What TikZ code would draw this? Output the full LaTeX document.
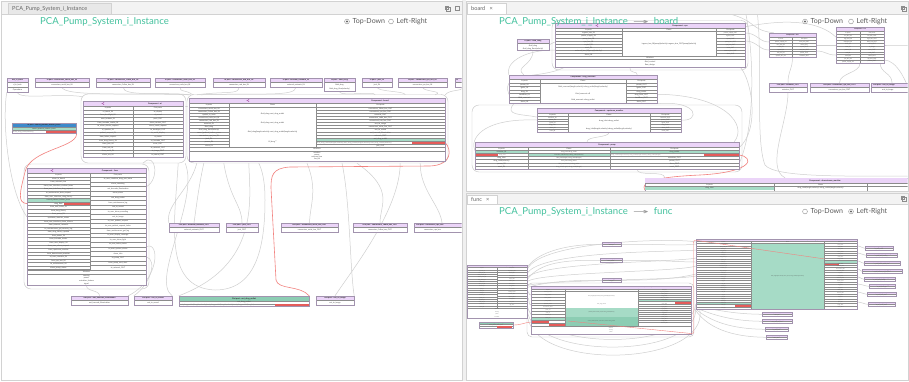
\documentclass[tikz,border=0pt]{standalone}
\usepackage{fontspec}
\setmainfont{Lato}
\newfontfamily\dejavu{DejaVu Sans}
\usetikzlibrary{fit,calc}
\pgfdeclarelayer{back}
\pgfdeclarelayer{bg}
\pgfsetlayers{back,bg,main}
\definecolor{lilac}{HTML}{EBD4F8}
\definecolor{boxc}{HTML}{A293AE}
\definecolor{grn}{HTML}{A6DBC6}
\definecolor{grnd}{HTML}{8CCDB3}
\definecolor{redc}{HTML}{E55C5A}
\definecolor{bluec}{HTML}{3D8ACB}
\definecolor{tealc}{HTML}{43C19D}
\definecolor{wirec}{HTML}{CFCFCF}
\definecolor{redw}{HTML}{F2827F}
\definecolor{tabbg}{HTML}{F3F3F3}
\definecolor{tabc}{HTML}{E8E8E8}
\definecolor{panelc}{HTML}{D2D2D2}
\tikzset{
  tx/.style={font=\fontsize{1.9}{2}\selectfont, text=black!72, inner sep=0pt},
  txs/.style={font=\fontsize{1.5}{1.6}\selectfont, text=black!72, inner sep=0pt},
  txf/.style={font=\fontsize{1.1}{1.2}\selectfont, text=black!72, inner sep=0pt},
  tb/.style={font=\fontsize{2}{2}\selectfont\bfseries, text=black!85, inner sep=0pt},
  tbs/.style={font=\fontsize{1.6}{1.7}\selectfont\bfseries, text=black!85, inner sep=0pt},
  tbf/.style={font=\fontsize{1.2}{1.3}\selectfont\bfseries, text=black!85, inner sep=0pt},
  boxo/.style={draw=boxc, line width=0.4pt, inner sep=0pt},
  rowl/.style={draw=black!45, line width=0.2pt},
  hdr/.style={fill=lilac},
  ghdr/.style={fill=grnd},
  wirel/.style={draw=wirec, line width=0.5pt},
  rwire/.style={draw=redw, line width=0.6pt},
  clus/.style={draw=black!22, line width=0.45pt, rounded corners=7pt},
  ttl/.style={font=\fontsize{9.6}{10}\selectfont, text=tealc, inner sep=0pt, anchor=west},
  radiot/.style={font=\fontsize{7}{7}\selectfont, text=black!65, inner sep=0pt, anchor=west},
  tabt/.style={font=\fontsize{5.6}{6}\selectfont, text=black!60, inner sep=0pt, anchor=west},
  radc/.style={draw=black!45, line width=0.4pt, fill=white},
}
\newcommand\rarr{{\dejavu →}}
\newcommand\hlines[5]{\foreach \kk in {1,...,#5}{\draw[rowl] (#1,{#3+\kk*#4}) -- (#2,{#3+\kk*#4});}}
\newcommand\coltext[5][tx]{\foreach \lbl [count=\kk] in {#5}{\node[#1] at (#2,{#3+(\kk-0.5)*#4}) {\lbl};}}
\newcommand\pbox[7][hdr]{%
  \fill[white] (#3,#4) rectangle (#5,{#4+8.8});
  \fill[#1] (#3,#4) rectangle (#5,{#4+4.5});
  \draw[rowl] (#3,{#4+4.5}) -- (#5,{#4+4.5});
  \node[tb] at ({(#3+#5)/2},{#4+2.25}) {#6};
  \node[tx] at ({(#3+#5)/2},{#4+6.65}) {#7};
  \node[boxo, fit={(#3,#4)(#5,{#4+8.8})}] (#2) {};}
\newcommand\spbox[6]{%
  \fill[white] (#2,#3) rectangle (#4,{#3+4.6});
  \fill[hdr] (#2,#3) rectangle (#4,{#3+2.3});
  \draw[rowl] (#2,{#3+2.3}) -- (#4,{#3+2.3});
  \node[tbf] at ({(#2+#4)/2},{#3+1.15}) {#5};
  \node[txf] at ({(#2+#4)/2},{#3+3.45}) {#6};
  \node[boxo, line width=0.3pt, fit={(#2,#3)(#4,{#3+4.6})}] (#1) {};}
\newcommand\shareicon[2]{%
  \fill[violet!65] ({#1-0.9},#2) circle (0.5pt) ({#1+0.8},{#2-0.9}) circle (0.5pt) ({#1+0.8},{#2+0.9}) circle (0.5pt);
  \draw[violet!65, line width=0.25pt] ({#1+0.8},{#2-0.9}) -- ({#1-0.9},#2) -- ({#1+0.8},{#2+0.9});}
\begin{document}
\catcode`\_=12
\begin{tikzpicture}[x=1pt,y=-1pt]
\begin{pgfonlayer}{back}
\fill[white] (0,0) rectangle (909,381);
\end{pgfonlayer}
\useasboundingbox (0,0) rectangle (909,381);

%================ LEFT PANEL =================
\begin{scope}
\clip (1.5,14.5) rectangle (461.5,379.5);
% --- in ports row
\fill[white] (7,78) rectangle (28,92);
\fill[hdr] (7,78) rectangle (28,82.5);
\draw[rowl] (7,82.5) -- (28,82.5) (7,87.2) -- (28,87.2);
\node[tb] at (17.5,80.25) {ate_in_bank};
\node[tx] at (17.5,84.85) {d_in_bank};
\node[tx] at (17.5,89.6) {Operations};
\node[boxo, fit={(7,78)(28,92)}] (ipa) {};
\pbox{ip1}{35}{78}{89}{In port : connectors_serial_bus_IN}{connectors_serial_bus_IN}
\pbox{ip2}{96}{78}{150}{In port : connectors_1dbm_bus_IN}{connectors_1dbm_bus_IN}
\pbox{ip3}{155}{78}{205}{In port : connectors_code_bus_IN}{connectors_code_bus_IN}
\pbox{ip4}{213}{78}{265}{In port : connectors_usb_bus_IN}{connectors_usb_bus_IN}
\pbox{ip5}{270}{78}{322}{In port : external_network_IN}{external_network_IN}
\fill[white] (324,78) rectangle (355,91.5);
\fill[hdr] (324,78) rectangle (355,82.5);
\draw[rowl] (324,82.5) -- (355,82.5);
\node[tb] at (339.5,80.25) {In port : fluid_drug};
\node[tx] at (339.5,85) {fluid_drug};
\node[tx] at (339.5,88.8) {fluid_drug_flow(velocity)};
\node[boxo, fit={(324,78)(355,91.5)}] (ip6) {};
\pbox{ip7}{362}{78}{392}{In port : jack_IN}{jack_IN}
\pbox{ip8}{398}{78}{447}{In port : connectors_rpa_bus_IN}{connectors_rpa_bus_IN}
\fill[white] (455,78) rectangle (470,86.8);
\fill[hdr] (455,78) rectangle (470,82.5);
\draw[rowl] (455,82.5) -- (470,82.5);
\node[tb, anchor=west] at (456,80.25) {In};
\node[boxo, fit={(455,78)(470,86.8)}] (ip9) {};

% --- blue in port
\fill[white] (12,123) rectangle (76,133);
\fill[bluec] (12,123) rectangle (76,127.5);
\node[tb] at (44,125.25) {In port : sound_patient_button_press};
\fill[grn] (12,127.5) rectangle (76,130.3);
\node[tx] at (44,128.9) {sound_patient_button_press};
\fill[redc] (46,130.3) rectangle (76,133);
\node[tx, text=black!45, anchor=west] at (13,131.65) {fluid_drug_flow(velocity)};
\draw[rowl] (12,127.5) -- (76,127.5) (12,130.3) -- (76,130.3);
\node[boxo, fit={(12,123)(76,133)}] (blue) {};

% --- Component ui
\node[boxo, fill=white, fit={(83,101)(183,157)}] (ui) {};
\fill[hdr] (83,101) rectangle (183,106);
\shareicon{103}{103.5}
\node[tb] at (155,103.5) {Component : ui};
\draw[rowl] (83,106) -- (183,106) (83,110) -- (183,110) (133,106) -- (133,157);
\node[tx] at (108,108) {In ports};
\node[tx] at (158,108) {Out ports};
\hlines{83}{183}{110}{3.6}{12}
\coltext{108}{110}{3.6}{ui_touch_IN,from_backlight_IN,uses_buttons_IN,from_barcode_reader_IN,to_alarm_silence_request,ui_speaker_IN,patient_request_IN,from_bolus_request,from_drug_library_IN,from_jack_IN,from_usb_IN,from_serial_IN,alarm_ack_IN}
\coltext{158}{110}{3.6}{to_display,ui_sound,push_OUT,alarm_control_OUT,alarm_mode_request,to_backlight_OUT,to_serial_display,ui_status,to_barcode_OUT,error_OUT,to_network_OUT,to_image_OUT,to_sound_OUT}
\draw[boxc, line width=0.4pt] (83,101) rectangle (183,157);

% --- Component board
\node[boxo, fill=white, fit={(189,98)(445,161)}] (board) {};
\fill[hdr] (189,98) rectangle (445,103);
\shareicon{248}{100.5}
\node[tb] at (380,100.5) {Component : board};
\fill[grn] (316,137.8) rectangle (445,140.9);
\fill[redc] (412,140.9) rectangle (445,144);
\draw[rowl] (189,103) -- (445,103) (189,107) -- (445,107) (229,103) -- (229,147) (316,103) -- (316,147) (189,147) -- (445,147) (189,150.8) -- (445,150.8);
\node[tx] at (209,105) {In ports};
\node[tx] at (272.5,105) {Flows};
\node[tx] at (380.5,105) {Out ports};
\hlines{189}{229}{107}{3.08}{12}
\hlines{316}{445}{107}{3.08}{12}
\coltext{209}{107}{3.08}{connectors_serial_bus_IN,connectors_1dbm_bus_IN,update_in_bank,connectors_code_bus_IN,connectors_usb_bus_IN,external_IN,fluid_drug,fluid_drug_flow(velocity),sound_patient_button_press,connectors_rpa_bus_IN,jack_IN,power_IN,alarm_IN}
\coltext{380.5}{107}{3.08}{connectors_1dbm_bus_OUT,connectors_rpa_bus_OUT,external_OUT,connectors_code_bus_OUT,connectors_usb_bus_OUT,out_to_image,connectors_serial_bus_OUT,out_to_sound,out_barcode_illumination,network_OUT,out_drug_outlet}
\node[tx, text=black!45, anchor=west] at (317,142.45) {out_drug_outlet(length,velocity) out_drug_outlet(length,velocity) out_drug_outlet(velocity)};
\node[tx] at (380.5,145.5) {jack_OUT};
\node[tx] at (272.5,114) {fluid_drug\rarr out_drug_outlet};
\node[tx] at (272.5,122.5) {fluid_drug\rarr out_drug_outlet};
\node[tx] at (272.5,132) {fluid_drug(length,velocity)\rarr out_drug_outlet(length,velocity)};
\node[tx] at (272.5,142) {UI_drug**};
\node[tx] at (317,148.9) {Wireless};
\node[tx] at (317,152.8) {wireless};
\node[tx] at (317,155) {power};
\node[tx] at (317,157.2) {external_bus};
\node[tx] at (317,159.4) {fan_bd};
\draw[boxc, line width=0.4pt] (189,98) rectangle (445,161);

% --- Component func
\node[boxo, fill=white, fit={(27,168)(146,285.5)}] (func) {};
\fill[hdr] (27,168) rectangle (146,173);
\shareicon{52}{170.5}
\node[tb] at (110,170.5) {Component : func};
\fill[grn] (27,198.4) rectangle (90,201.9);
\fill[redc] (64,201.9) rectangle (90,205.5);
\draw[rowl] (27,173) -- (146,173) (27,177) -- (146,177) (90,173) -- (90,270.2) (27,270.2) -- (146,270.2) (27,274) -- (146,274);
\node[tx] at (58.5,175) {In ports};
\node[tx] at (118,175) {Out ports};
\hlines{27}{90}{177}{3.56}{26}
\hlines{90}{146}{177}{4.65}{19}
\coltext{58.5}{177}{3.56}{alarm_in_board,from_network_bus,from_user_interface_confirm_bolus,from_user_interface_drug_request,to_maintenance_data_request,from_user_interface_drug_library,sound_patient_button_press,drug_flow,from_user_bolus_IN,from_drug_library,from_pump_IN,upstream_monitor_status,from_user_interface_alarm_silence,from_external_network,to_maintenance_get_security_log,from_drug_library_update,from_power_IN,from_barcode_reader,from_user_display_IN,from_user_alarm_request,from_upstream_monitor,from_downstream_monitor,to_user_interface_IN,from_rpa_bus_IN,to_maintenance_IN,alarm_pump_status}
\coltext{118}{177}{4.65}{to_user_interface_drug_pair_bolus,alarm_sounding,out_barcode_illumination,alarm_alarm,out_drug_outlet,from_maintenance_log,out_to_sound,to_user_alarm_sounding,out_to_image,to_user_patient_request,to_user_patient_request_bolus,from_maintenance_get_log,to_user_display_message,to_user_alarm_light,to_user_bolus_status,to_user_system_status,alarm_info,to_pump_OUT,from_pump_sent_alert,to_network_OUT}
\node[tx] at (86.5,272.1) {Wireless};
\node[tx] at (86.5,276) {sensing};
\node[tx] at (86.5,278.5) {power};
\node[tx] at (86.5,281) {actuation_feature};
\node[tx] at (86.5,283.5) {signal};
\draw[boxc, line width=0.4pt] (27,168) rectangle (146,285.5);

% --- out ports
\pbox{op1}{169}{223}{219}{Out port : external_network_OUT}{external_network_OUT}
\pbox{op2}{226}{223}{258}{Out port : jack_OUT}{jack_OUT}
\pbox{op3}{281}{223}{338}{Out port : connectors_serial_bus_OUT}{connectors_serial_bus_OUT}
\pbox{op4}{353}{223}{407}{Out port : connectors_1dbm_bus_OUT}{connectors_1dbm_bus_OUT}
\fill[white] (414,223) rectangle (470,231.8);
\fill[hdr] (414,223) rectangle (470,227.5);
\draw[rowl] (414,227.5) -- (470,227.5);
\node[tb, anchor=west] at (416,225.25) {Out port : connectors_rpa_bus};
\node[tx, anchor=west] at (424,229.65) {connectors_rpa_bus};
\node[boxo, fit={(414,223)(470,231.8)}] (op5) {};
\pbox{op6}{71}{296}{128}{Out port : out_barcode_illumination}{out_barcode_illumination}
\pbox{op7}{134}{296}{172}{Out port : out_to_sound}{out_to_sound}
\fill[white] (179,296) rectangle (309,306.5);
\fill[grnd] (179,296) rectangle (309,301);
\node[tb] at (244,298.5) {Out port : out_drug_outlet};
\draw[rowl] (179,301) -- (309,301) (179,303.7) -- (309,303.7);
\node[tx] at (244,302.35) {out_drug_outlet};
\fill[redc] (275,303.7) rectangle (309,306.5);
\node[tx, text=black!45, anchor=west] at (180,305.1) {out_drug_outlet(length,velocity) out_drug_outlet(length,velocity) out_drug_outlet(length)};
\node[boxo, fit={(179,296)(309,306.5)}] (od) {};
\pbox{op9}{316}{296}{354}{Out port : out_to_image}{out_to_image}
\end{scope}

% --- left panel wires
\begin{pgfonlayer}{bg}
\begin{scope}
\clip (1.5,14.5) rectangle (461.5,379.5);
\draw[clus] (81,94) rectangle (186,163);
\draw[clus] (187,94.5) rectangle (448,163);
\draw[clus] (24,164) rectangle (149,289);
\draw[wirel] (ipa.south) .. controls +(0,8) and +(-20,-4) .. ($(ui.north west)+(0,-4)$);
\draw[wirel] (ipa.south west) .. controls (2,120) and (8,190) .. ($(func.west)+(0,-10)$);
\draw[wirel] (ip1.south) .. controls +(0,10) and +(-50,-2) .. ($(board.north west)+(0,-3)$);
\draw[wirel] (ip2.south) .. controls +(0,10) and +(-30,-3) .. ($(board.north west)+(2,-3)$);
\draw[wirel] (ip3.south) .. controls +(0,6) and +(-8,-6) .. ($(board.north west)+(4,-3)$);
\draw[wirel] (ip4.south) .. controls +(0,8) and +(30,-4) .. ($(board.north west)+(8,-3)$);
\draw[wirel] (ip5.south) .. controls +(0,10) and +(60,-2) .. ($(board.north west)+(12,-3)$);
\draw[wirel] (ip6.south) .. controls +(0,5) and +(0,-4) .. ($(board.north east)+(-70,-3)$);
\draw[wirel] (ip7.south) .. controls +(0,5) and +(0,-4) .. ($(board.north east)+(-40,-3)$);
\draw[wirel] (ip8.south) .. controls +(0,5) and +(10,-4) .. ($(board.north east)+(-10,-3)$);
\draw[wirel] (ip9.south) .. controls +(0,5) and +(5,-6) .. ($(board.north east)+(0,-3)$);
\draw[wirel] ($(ui.north east)+(3,5)$) .. controls +(5,0) and +(-5,0) .. ($(board.north west)+(-2,8)$);
\draw[wirel] ($(ui.south east)+(2,6)$) .. controls (200,200) and (150,280) .. (op7.north east);
\draw[wirel] ($(ui.south east)+(-5,6)$) .. controls (175,220) and (162,288) .. (215,290) .. controls (255,290) and (265,250) .. (265,200) .. controls (265,180) and (262,170) .. ($(board.south west)+(70,2)$);
\draw[wirel] ($(board.south west)+(8,2)$) .. controls (190,190) and (165,205) .. (op1.north west);
\draw[wirel] ($(board.south west)+(15,2)$) .. controls (198,190) and (196,210) .. (op1.north);
\draw[wirel] ($(board.south west)+(35,2)$) .. controls (230,200) and (242,205) .. (op2.north);
\draw[wirel] ($(board.south west)+(60,2)$) .. controls (250,200) and (260,265) .. (od.north west);
\draw[wirel] ($(board.south)+(-10,2)$) .. controls (318,190) and (310,205) .. (op3.north);
\draw[wirel] ($(board.south)+(25,2)$) .. controls (350,200) and (350,270) .. (op9.north east);
\draw[wirel] ($(board.south)+(40,2)$) .. controls (395,190) and (380,205) .. (op4.north);
\draw[wirel] ($(board.south east)+(-25,2)$) .. controls (420,190) and (440,205) .. (op5.north);
\draw[wirel] ($(board.south east)+(-45,2)$) .. controls (400,210) and (352,270) .. (op9.north);
\draw[wirel] (func.south) .. controls +(0,6) and +(0,-6) .. (op6.north);
\draw[wirel] ($(func.east)+(0,30)$) .. controls (158,260) and (150,285) .. (op7.north west);
\draw[wirel] ($(func.east)+(0,20)$) .. controls (160,240) and (160,280) .. (op6.north east);
\draw[wirel] ($(func.east)+(0,-40)$) .. controls (160,180) and (156,150) .. ($(ui.south)+(10,6)$);
\draw[rwire] ($(blue.south east)+(0,-2)$) .. controls (82,148) and (30,148) .. (25,172) .. controls (20,192) and (17,203) .. (27,203.6);
\draw[rwire] ($(board.east)+(0,13)$) .. controls (452,150) and (452,165) .. (430,166) -- (290,167) .. controls (272,168) and (271,176) .. (271,188) -- (276,280) .. controls (278,290) and (300,285) .. (od.north east);
\end{scope}
\end{pgfonlayer}

%================ RIGHT TOP PANEL (board) =================
\begin{scope}
\clip (466.5,14.5) rectangle (907.5,190.5);
% fluid in port
\fill[white] (517,39) rectangle (549,50.5);
\fill[hdr] (517,39) rectangle (549,43.5);
\draw[rowl] (517,43.5) -- (549,43.5);
\node[tb] at (533,41.25) {In port : fluid_drug};
\node[tx] at (533,45.6) {fluid_drug};
\node[tx] at (533,48.8) {fluid_drug_flow(velocity)};
\node[boxo, fit={(517,39)(549,50.5)}] (fl) {};
% cpu
\node[boxo, fill=white, fit={(555,23)(745,67)}] (cpu) {};
\fill[hdr] (555,23) rectangle (745,28);
\shareicon{597}{25.5}
\node[tb] at (680,25.5) {Component : cpu};
\draw[rowl] (555,28) -- (745,28) (555,31.5) -- (745,31.5) (622,28) -- (622,56) (716,28) -- (716,56) (555,56) -- (745,56) (555,59.5) -- (745,59.5);
\node[tx] at (588.5,29.75) {In ports};
\node[tx] at (669,29.75) {Flows};
\node[tx] at (730.5,29.75) {Out ports};
\hlines{555}{622}{31.5}{3.06}{7}
\hlines{716}{745}{31.5}{3.06}{7}
\coltext{588.5}{31.5}{3.06}{ingress_bus_IN,power_supply_IN,pump_bus_IN,cpu_bus_IN,crystal_IN,reset_IN,external_bus_IN(pump)(velocity),alarm_IN}
\coltext[txs]{730.5}{31.5}{3.06}{power_supply_OUT,egress_OUT,crystal_OUT,pump_bus_OUT,cpu_bus_OUT,reset_OUT,external_bus_OUT,alarm_OUT}
\node[tx] at (669,44) {ingress_bus_IN(pump)(velocity)\rarr egress_bus_OUT(pump)(velocity)};
\node[tx] at (650,57.75) {Wireless};
\node[tx] at (650,61.5) {fluid_control};
\node[tx] at (650,64.8) {flow_design};
\draw[boxc, line width=0.4pt] (555,23) rectangle (745,67);
% mcu
\node[boxo, fill=white, fit={(769,33)(816,57)}] (mcu) {};
\fill[hdr] (769,33) rectangle (816,37.5);
\node[tbs] at (792.5,35.25) {Component : mcu};
\draw[rowl] (769,37.5) -- (816,37.5) (769,40.5) -- (816,40.5) (792.5,37.5) -- (792.5,57);
\node[txs] at (780.75,39) {In ports};
\node[txs] at (804.25,39) {Out ports};
\hlines{769}{816}{40.5}{2.75}{5}
\coltext[txs]{780.75}{40.5}{2.75}{power_supply_IN,mcu_bus_IN,reset_IN,crystal_IN,ext_bus_IN,system_bus_IN}
\coltext[txs]{804.25}{40.5}{2.75}{mcu_bus_OUT,reset_OUT,crystal_OUT,ext_bus_OUT,power_OUT,actuator_OUT}
\draw[boxc, line width=0.4pt] (769,33) rectangle (816,57);
% tcu
\node[boxo, fill=white, fit={(836,27)(884,63)}] (tcu) {};
\fill[hdr] (836,27) rectangle (884,31.5);
\node[tbs] at (860,29.25) {Component : tcu};
\draw[rowl] (836,31.5) -- (884,31.5) (836,34.5) -- (884,34.5) (860,31.5) -- (860,63);
\node[txs] at (848,33) {In ports};
\node[txs] at (872,33) {Out ports};
\hlines{836}{884}{34.5}{2.85}{9}
\coltext[txs]{848}{34.5}{2.85}{tcu_bus_IN,sign_bus_IN,data_bus_IN,clock_IN,reset_IN,power_IN,usb_IN,serial_IN,rpa_bus_IN,power_supply_IN}
\coltext[txs]{872}{34.5}{2.85}{tcu_bus_OUT,sign_bus_OUT,data_bus_OUT,clock_OUT,to_image,reset_OUT,usb_OUT,serial_OUT,rpa_bus_OUT,power_OUT}
\draw[boxc, line width=0.4pt] (836,27) rectangle (884,63);
% drug reservoir
\node[boxo, fill=white, fit={(509,75)(657,103.5)}] (dr) {};
\fill[hdr] (509,75) rectangle (657,79.5);
\node[tb] at (583,77.25) {Component : drug_reservoir};
\draw[rowl] (509,79.5) -- (657,79.5) (509,83) -- (657,83) (540,79.5) -- (540,103.5) (626,79.5) -- (626,103.5);
\node[tx] at (524.5,81.25) {In ports};
\node[tx] at (583,81.25) {Flows};
\node[tx] at (641.5,81.25) {Out ports};
\hlines{509}{540}{83}{3.4}{5}
\hlines{626}{657}{83}{3.4}{5}
\coltext{524.5}{83}{3.4}{power_IN,ignite_IN,drug_IN,backflow_IN,fluid_reservoir,alarm_IN}
\coltext{641.5}{83}{3.4}{power_OUT,ignite_OUT,drug_outlet,drug_level_OUT,backflow_OUT,alarm_OUT}
\node[tx] at (583,87) {fluid_reservoir(length,velocity)\rarr drug_outlet(length,velocity)};
\node[tx] at (583,93.5) {fluid_reservoir\rarr fl};
\node[tx] at (583,99.5) {fluid_reservoir\rarr drug_outlet};
\draw[boxc, line width=0.4pt] (509,75) rectangle (657,103.5);
% out ports
\pbox{bo1}{769}{83}{807}{Out port : actuator_OUT}{actuator_OUT}
\pbox{bo2}{810}{83}{869}{Out port : connectors_rpa_bus_OUT}{connectors_rpa_bus_OUT}
\fill[white] (871,83) rectangle (913,91.8);
\fill[hdr] (871,83) rectangle (913,87.5);
\draw[rowl] (871,87.5) -- (913,87.5);
\node[tb, anchor=west] at (873,85.25) {Out port : out_to_image};
\node[tx, anchor=west] at (882,89.65) {out_to_image};
\node[boxo, fit={(871,83)(913,91.8)}] (bo3) {};
% upstream monitor
\node[boxo, fill=white, fit={(537,108)(681,132)}] (um) {};
\fill[hdr] (537,108) rectangle (681,113);
\node[tb] at (609,110.5) {Component : upstream_monitor};
\draw[rowl] (537,113) -- (681,113) (537,116.3) -- (681,116.3) (568,113) -- (568,132) (650,113) -- (650,132);
\node[tx] at (552.5,114.65) {In ports};
\node[tx] at (609,114.65) {Flows};
\node[tx] at (665.5,114.65) {Out ports};
\hlines{537}{568}{116.3}{2.62}{5}
\hlines{650}{681}{116.3}{2.62}{5}
\coltext[txs]{552.5}{116.3}{2.62}{backflow_IN,power_IN,ignite_IN,drug_inlet,alarm_IN,reset_IN}
\coltext[txs]{665.5}{116.3}{2.62}{backflow_OUT,power_OUT,ignite_OUT,drug_outlet,alarm_OUT,reset_OUT}
\node[tx] at (609,121) {drug_inlet\rarr drug_outlet};
\node[tx] at (609,128.5) {drug_inlet(length,velocity)\rarr drug_outlet(length,velocity)};
\draw[boxc, line width=0.4pt] (537,108) rectangle (681,132);
% pump
\node[boxo, fill=white, fit={(475,142)(739,169)}] (pump) {};
\fill[hdr] (475,142) rectangle (739,147);
\node[tb] at (607,144.5) {Component : pump};
\fill[grn] (475,150) rectangle (528,153.17);
\fill[redc] (475,153.17) rectangle (498,156.34);
\fill[grn] (528,153.17) rectangle (610,156.34);
\fill[grn] (610,150) rectangle (739,153.17);
\fill[redc] (704,153.17) rectangle (739,156.34);
\draw[rowl] (475,147) -- (739,147) (475,150) -- (739,150) (528,147) -- (528,169) (610,147) -- (610,169);
\node[tx] at (501.5,148.5) {In ports};
\node[tx] at (569,148.5) {Flows};
\node[tx] at (674.5,148.5) {Out ports};
\hlines{475}{739}{150}{3.17}{5}
\coltext{501.5}{150}{3.17}{actuator_IN,{},drug_inlet,drug_inlet(velocity),power_IN,reset_IN}
\node[txs, text=black!45, anchor=west] at (499,154.75) {drug_flow};
\coltext[txs]{569}{150}{3.17}{drug_inlet\rarr drug_outlet,actuation_IN(velocity)\rarr drug_outlet(velocity),fluid_rate(length)\rarr drug_outlet(length),fluid_rate\rarr drug_outlet,fluid_rate(velocity)\rarr drug_outlet,drug_inlet(length)\rarr drug_outlet(length)}
\coltext{674.5}{150}{3.17}{drug_outlet,{},actuation_OUT,power_OUT,alarm_OUT,reset_OUT}
\node[txs, text=black!45, anchor=west] at (611,154.75) {drug_outlet(length velocity) drug_outlet(length velocity) drug_outlet(length)};
\draw[boxc, line width=0.4pt] (475,142) rectangle (739,169);
% downstream monitor
\node[boxo, fill=white, fit={(645,178)(1005,200)}] (ds) {};
\fill[hdr] (645,178) rectangle (1005,183);
\node[tb] at (825,180.5) {Component : downstream_monitor};
\fill[grn] (645,186.5) rectangle (774,190);
\draw[rowl] (645,183) -- (1005,183) (645,186.5) -- (1005,186.5) (774,183) -- (774,200) (867,183) -- (867,200);
\node[tx] at (709.5,184.75) {In ports};
\node[tx] at (820.5,184.75) {Flows};
\node[tx] at (709.5,188.3) {drug_inlet};
\node[tx] at (820.5,188.3) {drug_inlet(length,velocity)\rarr drug_outlet(length,velocity)};
\end{scope}

\begin{pgfonlayer}{bg}
\begin{scope}
\clip (466.5,14.5) rectangle (907.5,190.5);
\draw[clus] (552,20.5) rectangle (748,70);
\draw[clus] (472,105) rectangle (742,172);
\coordinate (rt1) at (757,10);
\coordinate (rt2) at (745,10);
\coordinate (rt3) at (700,10);
\coordinate (rt4) at (912,176);
\coordinate (rt5) at (912,45);
\coordinate (rt6) at (912,100);
\draw[wirel] (fl.south) .. controls +(0,15) and +(-10,-8) .. ($(dr.north west)+(15,0)$);
\draw[wirel] (fl.east) .. controls +(3,0) and +(-3,0) .. ($(cpu.west)+(0,-3)$);
\draw[wirel] ($(cpu.west)+(0,5)$) .. controls (520,50) and (505,65) .. (dr.north west);
\draw[wirel] ($(cpu.east)+(0,-12)$) .. controls +(12,0) and +(-10,0) .. ($(mcu.west)+(0,-3)$);
\draw[wirel] ($(cpu.east)+(0,-4)$) .. controls +(12,0) and +(-10,0) .. ($(mcu.west)+(0,5)$);
\draw[wirel] ($(cpu.north east)+(0,4)$) .. controls (790,18) and (820,22) .. ($(tcu.west)+(0,-8)$);
\draw[wirel] (rt3) .. controls (760,14) and (745,30) .. ($(mcu.north west)+(5,0)$);
\draw[wirel] (mcu.east) .. controls +(10,0) and +(-10,0) .. (tcu.west);
\draw[wirel] ($(mcu.east)+(0,6)$) .. controls +(10,0) and +(-10,0) .. ($(tcu.west)+(0,10)$);
\draw[wirel] (mcu.south) .. controls +(0,12) and +(0,-12) .. (bo1.north);
\draw[wirel] (tcu.south) .. controls +(0,10) and +(0,-10) .. (bo2.north);
\draw[wirel] ($(tcu.south east)+(-4,0)$) .. controls +(0,10) and +(0,-10) .. (bo3.north);
\draw[wirel] (tcu.east) .. controls +(10,0) and +(-10,0) .. (rt5);
\draw[wirel] ($(tcu.east)+(0,15)$) .. controls +(12,0) and +(-5,-20) .. (rt6);
\draw[wirel] (rt1) .. controls (763,60) and (755,140) .. (765,165) .. controls (775,178) and (850,176) .. (rt4);
\draw[wirel] (rt2) .. controls (752,40) and (758,120) .. ($(pump.east)+(0,8)$);
\draw[wirel] ($(cpu.south)+(-20,0)$) .. controls +(0,8) and +(0,-5) .. ($(dr.north east)+(-20,0)$);
\draw[wirel] ($(cpu.south west)+(10,0)$) .. controls (540,80) and (500,70) .. ($(dr.west)+(0,5)$);
\draw[wirel] ($(dr.south west)+(5,0)$) .. controls +(-10,12) and +(-15,-3) .. ($(um.west)+(0,-3)$);
\draw[wirel] (dr.south east) .. controls (700,100) and (700,122) .. (um.east);
\draw[wirel] ($(dr.east)+(0,5)$) .. controls (725,95) and (748,125) .. ($(pump.north east)+(-5,0)$);
\draw[wirel] (um.south) .. controls +(0,6) and +(0,-6) .. ($(pump.north)+(-20,0)$);
\draw[wirel] (um.west) .. controls (480,118) and (470,140) .. ($(pump.west)+(0,-5)$);
\draw[wirel] ($(pump.east)+(0,-8)$) .. controls (760,130) and (752,80) .. ($(cpu.south east)+(-5,0)$);
\draw[wirel] ($(pump.south)+(30,0)$) .. controls +(0,8) and +(0,-8) .. ($(ds.north west)+(20,0)$);
\draw[wirel] ($(bo1.south)$) .. controls +(0,30) and +(-20,-10) .. ($(ds.north)+(-40,0)$);
\draw[rwire] ($(pump.east)+(0,-0.5)$) .. controls (754,157) and (755,172) .. (700,175) .. controls (655,177) and (640,182) .. ($(ds.west)+(0,1)$);
\end{scope}
\end{pgfonlayer}

%================ RIGHT BOTTOM PANEL (func) =================
\begin{scope}
\clip (466.5,204.5) rectangle (907.5,379.5);
% top small boxes
\spbox{sb1}{602}{242}{621}{In port : alarm_IN}{alarm_IN}
\spbox{sb2}{600}{258}{622}{In port : bolus_request}{bolus_request}
\spbox{sb3}{602}{278}{621}{In port : drug_IN}{drug_IN}
% left component
\node[boxo, fill=white, fit={(467,265)(527,318)}] (lc) {};
\fill[hdr] (467,265) rectangle (527,267.4);
\node[tbf] at (510,266.2) {Component : ui_func};
\draw[rowl] (467,267.4) -- (527,267.4) (467,269.6) -- (527,269.6) (497,267.4) -- (497,308) (467,308) -- (527,308);
\node[txf] at (482,268.5) {In ports};
\node[txf] at (512,268.5) {Out ports};
\hlines{467}{497}{269.6}{2.25}{17}
\hlines{497}{527}{269.6}{2.6}{14}
\coltext[txf]{482}{269.6}{2.25}{ui_touch_IN,from_user_IN,bolus_request_IN,confirm_bolus_IN,drug_library_IN,silence_IN,alarm_ack_IN,barcode_IN,jack_IN,serial_IN,usb_IN,network_IN,power_IN,rpa_bus_IN,code_bus_IN,patient_IN,status_IN}
\coltext[txf]{512}{269.6}{2.6}{to_display_OUT,sound_OUT,alarm_OUT,image_OUT,status_OUT,bolus_OUT,drug_OUT,error_OUT,backlight_OUT,barcode_OUT,network_OUT,serial_OUT,usb_OUT,log_OUT}
\node[txf] at (497,309.5) {Wireless};
\node[txf] at (497,312) {sensing};
\node[txf] at (497,314.3) {power};
\node[txf] at (497,316.6) {actuation};
\draw[boxc, line width=0.3pt] (467,265) rectangle (527,318);
% green in port
\fill[white] (479,322) rectangle (513,328);
\fill[grnd] (479,322) rectangle (513,324.2);
\node[tbf] at (496,323.1) {In port : sound_patient_button_press};
\draw[rowl] (479,324.2) -- (513,324.2) (479,326.2) -- (513,326.2);
\node[txf] at (496,325.2) {sound_patient_button_press};
\fill[redc] (497,326.2) rectangle (512,328);
\node[boxo, line width=0.3pt, fit={(479,322)(513,328)}] (gp) {};
% middle component
\node[boxo, fill=white, fit={(531,286)(691,334)}] (mc) {};
\fill[hdr] (531,286) rectangle (691,288.6);
\node[tbf] at (649,287.3) {Component : func_control};
\fill[grn] (565,308) rectangle (638,317);
\fill[grnd] (565,317) rectangle (638,326);
\fill[grn] (531,317.1) rectangle (565,320);
\fill[redc] (531,320) rectangle (549,322.9);
\fill[redc] (549,322.9) rectangle (565,325.8);
\fill[grn] (638,299.4) rectangle (691,301.5);
\fill[redc] (675,301.5) rectangle (691,303.6);
\draw[rowl] (531,288.6) -- (691,288.6) (531,291) -- (691,291) (565,288.6) -- (565,326) (638,288.6) -- (638,326) (531,326) -- (691,326);
\node[txf] at (548,289.8) {In ports};
\node[txf] at (601.5,289.8) {Flows};
\node[txf] at (664.5,289.8) {Out ports};
\hlines{531}{565}{291}{2.9}{11}
\hlines{638}{691}{291}{2.1}{15}
\coltext[txf]{548}{291}{2.9}{alarm_in_board,drug_request,bolus_request,pump_status,upstream_status,downstream_status,power_IN,reset_IN,network_IN,library_IN}
\coltext[txf]{664.5}{291}{2.1}{to_pump_control,alarm_status,drug_outlet,pump_rate_OUT,bolus_status,{},error_OUT,to_ui_alarm,to_ui_status,to_ui_message,log_OUT,reset_OUT,power_OUT,sound_OUT,image_OUT,network_OUT}
\node[txf] at (601.5,296) {fluid_drug(length,velocity)\rarr drug_outlet(length,velocity)};
\node[txf] at (601.5,304) {func_drug_control};
\node[txf] at (601.5,312.5) {patient_button\rarr bolus_request\rarr drug_outlet(velocity)};
\node[txf] at (601.5,321.5) {sound_patient_button_press\rarr func_control\rarr drug_outlet};
\node[txf] at (611,327.8) {Wireless};
\node[txf] at (611,330) {sensing};
\node[txf] at (611,332.2) {power};
\draw[boxc, line width=0.3pt] (531,286) rectangle (691,334);
% right big component
\node[boxo, fill=white, fit={(696,239)(857,309)}] (rc) {};
\fill[hdr] (696,239) rectangle (857,241.4);
\node[tbf] at (812,240.2) {Component : func_pump};
\fill[grn] (751,243.5) rectangle (824,309);
\fill[grn] (696,302.4) rectangle (751,304.6);
\fill[redc] (735,304.6) rectangle (751,306.7);
\fill[grn] (824,260.3) rectangle (857,262.7);
\fill[redc] (824,262.7) rectangle (839,265.1);
\draw[rowl] (696,241.4) -- (857,241.4) (696,243.5) -- (857,243.5) (751,241.4) -- (751,309) (824,241.4) -- (824,309);
\node[txf] at (723.5,242.45) {In ports};
\node[txf] at (787.5,242.45) {Flows};
\node[txf] at (840.5,242.45) {Out ports};
\hlines{696}{751}{243.5}{2.18}{29}
\hlines{824}{857}{243.5}{2.4}{26}
\coltext[txf]{723.5}{243.5}{2.18}{to_pump_control,pump_rate_IN,alarm_IN,drug_library,bolus_IN,basal_IN,drug_flow_IN,power_IN,reset_IN,upstream_IN,downstream_IN,occlusion_IN,air_in_line_IN,door_IN,reservoir_IN,battery_IN,clock_IN,log_IN,key_IN,status_IN,network_IN,serial_IN,usb_IN,rpa_IN,jack_IN,image_IN,sound_IN,patient_IN,flow_IN,error_IN}
\coltext[txf]{840.5}{243.5}{2.4}{pump_OUT,rate_OUT,alarm_OUT,library_OUT,bolus_OUT,basal_OUT,drug_outlet,{},reset_OUT,upstream_OUT,downstream_OUT,occlusion_OUT,air_OUT,door_OUT,reservoir_OUT,battery_OUT,clock_OUT,log_OUT,key_OUT,status_OUT,network_OUT,serial_OUT,usb_OUT,rpa_OUT,jack_OUT,image_OUT,sound_OUT}
\node[txf] at (787.5,276) {fluid_drug(length,velocity)\rarr func_pump\rarr drug_outlet(length,velocity)};
\draw[boxc, line width=0.3pt] (696,239) rectangle (857,309);
% right small boxes
\spbox{rb1}{865}{246}{893}{Out port : to_pump_control}{to_pump_control}
\spbox{rb2}{866}{253}{897}{Out port : to_user_alarm_sounding}{to_user_alarm_sounding}
\spbox{rb3}{864}{261}{900}{Out port : to_user_patient_request_bolus}{to_user_patient_request_bolus}
\spbox{rb4}{862}{269}{902}{Out port : to_user_interface_drug_pair_bolus}{to_user_interface_drug_pair_bolus}
\spbox{rb5}{864}{277}{895}{Out port : to_user_display_message}{to_user_display_message}
\spbox{rb6}{869}{284}{895}{Out port : to_user_alarm_light}{to_user_alarm_light}
\spbox{rb7}{867}{292}{896}{Out port : to_user_bolus_status}{to_user_bolus_status}
\spbox{rb8}{868}{302}{895}{Out port : to_user_system_status}{to_user_system_status}
% boxes below
\spbox{bb1}{762}{312}{792}{Out port : alarm_info}{alarm_info}
\spbox{bb2}{762}{319}{792}{Out port : from_pump_sent_alert}{from_pump_sent_alert}
\spbox{bb3}{765}{327}{788}{Out port : to_pump_OUT}{to_pump_OUT}
\spbox{bb4}{766}{335}{787}{Out port : alarm_alarm}{alarm_alarm}
% red connectors over boxes
\coordinate (mr1) at (568,321);
\coordinate (mr2) at (691,333.5);
\coordinate (mr3) at (693.5,243);
\coordinate (mr4) at (825,259);
\draw[rwire, line width=0.4pt] (mr1) -- (mr2) .. controls (693.5,333.5) .. (693.5,330) -- (mr3) .. controls (693.5,240.5) .. (697,240.5) -- (mr4);
\end{scope}

\begin{pgfonlayer}{bg}
\begin{scope}
\clip (466.5,204.5) rectangle (907.5,379.5);
\draw[clus, rounded corners=5pt] (527,283) rectangle (694,337);
\draw[wirel] ($(lc.east)+(0,-22)$) .. controls (540,240) and (680,238) .. ($(rc.west)+(0,-32)$);
\draw[wirel] ($(lc.east)+(0,-18)$) .. controls (540,250) and (680,252) .. ($(rc.west)+(0,-24)$);
\draw[wirel] ($(lc.east)+(0,-14)$) .. controls (540,262) and (680,262) .. ($(rc.west)+(0,-16)$);
\draw[wirel] ($(lc.east)+(0,-10)$) .. controls (540,272) and (680,272) .. ($(rc.west)+(0,-8)$);
\draw[wirel] ($(lc.east)+(0,-6)$) .. controls (545,280) and (680,280) .. ($(rc.west)+(0,2)$);
\draw[wirel] ($(lc.east)+(0,14)$) .. controls (535,350) and (690,352) .. ($(rc.west)+(0,30)$);
\draw[wirel] ($(lc.east)+(0,18)$) .. controls (530,360) and (700,360) .. ($(rc.west)+(0,33)$);
\draw[wirel] ($(lc.east)+(0,20)$) .. controls (525,372) and (710,368) .. ($(rc.south west)+(4,0)$);
\draw[wirel] (sb1.west) .. controls (560,244) and (535,255) .. ($(lc.east)+(0,-24)$);
\draw[wirel] (sb1.east) .. controls (660,244) and (680,246) .. ($(rc.west)+(0,-30)$);
\draw[wirel] (sb2.west) .. controls (565,260) and (540,262) .. ($(lc.east)+(0,-12)$);
\draw[wirel] (sb2.east) .. controls (660,260) and (680,262) .. ($(rc.west)+(0,-12)$);
\draw[wirel] (sb3.west) .. controls (570,280) and (545,282) .. ($(lc.east)+(0,-4)$);
\draw[wirel] (sb3.east) .. controls (660,280) and (680,278) .. ($(rc.west)+(0,0)$);
\draw[wirel] ($(lc.east)+(0,0)$) .. controls +(3,0) and +(-3,0) .. ($(mc.west)+(0,-15)$);
\draw[wirel] ($(lc.east)+(0,6)$) .. controls +(3,0) and +(-3,0) .. ($(mc.west)+(0,-5)$);
\draw[wirel] ($(rc.east)+(0,-28)$) .. controls +(4,0) and +(-3,0) .. (rb1.west);
\draw[wirel] ($(rc.east)+(0,-21)$) .. controls +(4,0) and +(-3,0) .. (rb2.west);
\draw[wirel] ($(rc.east)+(0,-13)$) .. controls +(4,0) and +(-3,0) .. (rb3.west);
\draw[wirel] ($(rc.east)+(0,-5)$) .. controls +(4,0) and +(-3,0) .. (rb4.west);
\draw[wirel] ($(rc.east)+(0,3)$) .. controls +(4,0) and +(-3,0) .. (rb5.west);
\draw[wirel] ($(rc.east)+(0,10)$) .. controls +(4,0) and +(-3,0) .. (rb6.west);
\draw[wirel] ($(rc.east)+(0,18)$) .. controls +(4,0) and +(-3,0) .. (rb7.west);
\draw[wirel] ($(rc.east)+(0,28)$) .. controls +(4,0) and +(-3,0) .. (rb8.west);
\draw[wirel] ($(rc.south west)+(1,-3)$) .. controls (725,312) and (740,314) .. (bb1.west);
\draw[wirel] ($(rc.south west)+(1,-1)$) .. controls (720,318) and (740,321) .. (bb2.west);
\draw[wirel] ($(rc.south west)+(0,0)$) .. controls (715,325) and (740,329) .. (bb3.west);
\draw[wirel] ($(rc.south west)+(-1,0)$) .. controls (710,332) and (740,337) .. (bb4.west);
\draw[rwire, line width=0.4pt] (gp.east) .. controls +(8,0) and +(-8,1) .. ($(mc.west)+(0,12)$);
\end{scope}
\end{pgfonlayer}

%================ FRAMES, TABS, TITLES =================
\fill[gray!12] (462,0) rectangle (466,381);
\fill[gray!12] (466,191) rectangle (909,193.5);
\fill[tabbg] (1.3,1.8) rectangle (461.7,14);
\fill[tabbg] (466.3,1.8) rectangle (907.7,14);
\fill[tabbg] (466.3,193.8) rectangle (907.7,204.5);
\draw[panelc, line width=0.4pt] (1.3,14) -- (461.7,14) (466.3,14) -- (907.7,14) (466.3,204.5) -- (907.7,204.5);
\draw[panelc, line width=0.6pt] (1,1.5) rectangle (462,380);
\draw[panelc, line width=0.6pt] (466,1.5) rectangle (908,191);
\draw[panelc, line width=0.6pt] (466,193.5) rectangle (908,380);
\draw[panelc, fill=tabc] (8,3) rectangle (111,14);
\node[tabt] (tab1) at (12,8.7) {PCA_Pump_System_i_Instance};
\draw[panelc, fill=white] (467,3) rectangle (506,14);
\node[tabt] (tab2) at (471,8.7) {board};
\node[tabt] (tab2x) at (489.5,8.7) {×};
\draw[panelc, fill=white] (467,195) rectangle (497,204.5);
\node[tabt] (tab3) at (471,199.9) {func};
\node[tabt] (tab3x) at (486,199.9) {×};
\draw[black!45, line width=0.4pt] (445,6) rectangle (448.5,9.5) (446.5,7.5) rectangle (450,11);
\draw[black!45, line width=0.4pt] (455,6) rectangle (459.5,10.5);
\draw[black!45, line width=0.4pt] (901,6) rectangle (904.5,9.5) (902.5,7.5) rectangle (906,11);
\draw[black!45, line width=0.4pt] (901,196) rectangle (904.5,199.5) (902.5,197.5) rectangle (906,201);
% titles
\node[ttl] (title1) at (40,21.5) {PCA_Pump_System_i_Instance};
\node[ttl] (title2) at (499,21.5) {PCA_Pump_System_i_Instance\hspace{5pt}{\color{black!40}\scalebox{2}[0.8]{\rarr}}\hspace{5pt}board};
\node[ttl] (title3) at (499,211.5) {PCA_Pump_System_i_Instance\hspace{5pt}{\color{black!40}\scalebox{2}[0.8]{\rarr}}\hspace{5pt}func};
% radio buttons
\draw[radc] (347,21.5) circle (2.4pt); \fill[black!60] (347,21.5) circle (1.1pt);
\node[radiot] (r1) at (352.5,21.5) {Top-Down};
\draw[radc] (391,21.5) circle (2.4pt);
\node[radiot] (r2) at (396.5,21.5) {Left-Right};
\draw[radc] (805,21.5) circle (2.4pt); \fill[black!60] (805,21.5) circle (1.1pt);
\node[radiot] (r3) at (810.5,21.5) {Top-Down};
\draw[radc] (851,21.5) circle (2.4pt);
\node[radiot] (r4) at (856.5,21.5) {Left-Right};
\draw[radc] (805,211.5) circle (2.4pt);
\node[radiot] (r5) at (810.5,211.5) {Top-Down};
\draw[radc] (851,211.5) circle (2.4pt); \fill[black!60] (851,211.5) circle (1.1pt);
\node[radiot] (r6) at (856.5,211.5) {Left-Right};
\end{tikzpicture}
\end{document}
